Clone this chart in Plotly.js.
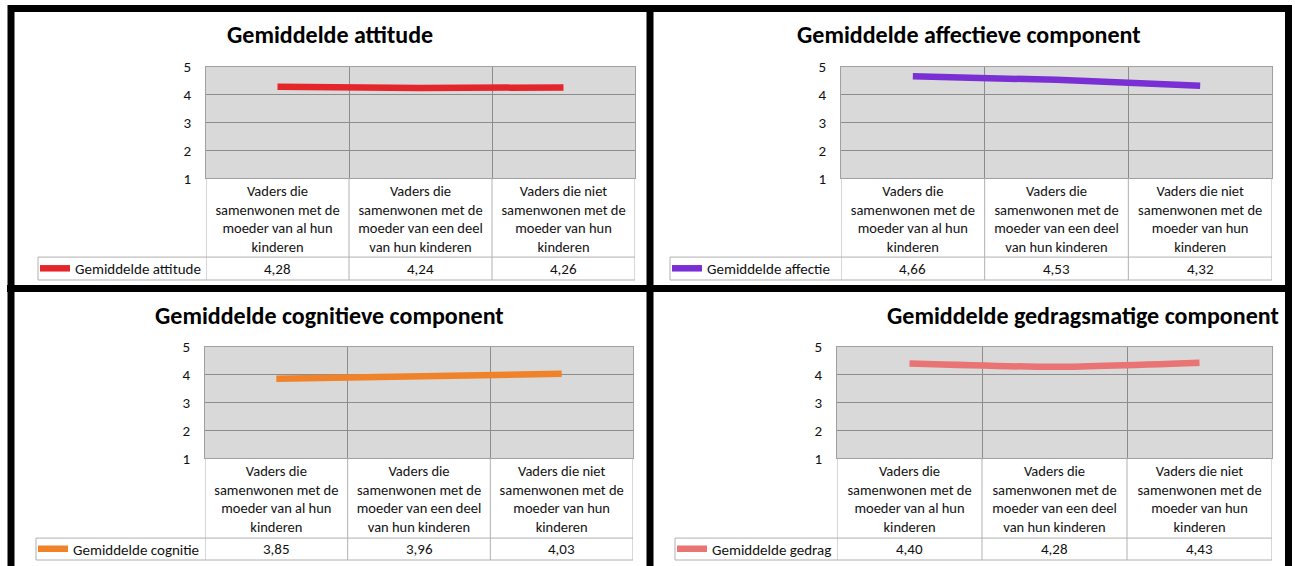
<!DOCTYPE html>
<html>
<head>
<meta charset="utf-8">
<script src="https://cdn.plot.ly/plotly-3.0.1.min.js"></script>
<style>html,body{margin:0;padding:0;background:#fff;}#chart{width:1295px;height:566px;}</style>
</head>
<body>
<div id="chart"></div>
<script>
// ---- data ----
const categories = [
  'Vaders die samenwonen met de moeder van al hun kinderen',
  'Vaders die samenwonen met de moeder van een deel van hun kinderen',
  'Vaders die niet samenwonen met de moeder van hun kinderen'
];
const tickLabels = [
  'Vaders die<br>samenwonen met de<br>moeder van al hun<br>kinderen',
  'Vaders die<br>samenwonen met de<br>moeder van een deel<br>van hun kinderen',
  'Vaders die niet<br>samenwonen met de<br>moeder van hun<br>kinderen'
];
const chartTitles = [
  'Gemiddelde attitude',
  'Gemiddelde affectieve component',
  'Gemiddelde cognitieve component',
  'Gemiddelde gedragsmatige component'
];
const seriesNames = ['Gemiddelde attitude', 'Gemiddelde affectie', 'Gemiddelde cognitie', 'Gemiddelde gedrag'];
const attitude = [4.28, 4.24, 4.26];
const affectie = [4.66, 4.53, 4.32];
const cognitie = [3.85, 3.96, 4.03];
const gedrag   = [4.40, 4.28, 4.43];
const yTicks = [1, 2, 3, 4, 5];

// ---- styling / layout ----
const seriesValues = [attitude, affectie, cognitie, gedrag];
const colors = ['#E4262B', '#7A2FD4', '#F0822A', '#EA7373'];
const shapesKind = ['linear', 'linear', 'linear', 'spline'];
const W = 1295, H = 566;
const px = x => x / W;
const py = y => 1 - y / H;
const FONT = 'Carlito, Lato, "Open Sans", sans-serif';
const GRID = '#8c8c8c';
const TBL = '#b0b0b0';

// pixel boxes for each panel
const panels = [
  {l: 206, r: 635, t: 67, b: 179, leg: 38, tt: 258, tb: 281, tx: 330, ty: 35},
  {l: 841, r: 1272, t: 67, b: 179, leg: 670, tt: 258, tb: 281, tx: 968, ty: 35},
  {l: 205, r: 633, t: 348, b: 460, leg: 36, tt: 540, tb: 562, tx: 329, ty: 317},
  {l: 837, r: 1272, t: 348, b: 460, leg: 675, tt: 540, tb: 562, tx: 1083, ty: 317}
];

const fmt = v => v.toFixed(2).replace('.', ',');

const data = [];
const layout = {
  width: W, height: H,
  margin: {l: 0, r: 0, t: 0, b: 0},
  paper_bgcolor: '#ffffff',
  plot_bgcolor: '#d9d9d9',
  showlegend: true,
  annotations: [],
  shapes: []
};

panels.forEach((p, i) => {
  const sfx = i === 0 ? '' : String(i + 1);
  const legName = 'legend' + sfx;
  data.push({
    type: 'scatter', mode: 'lines',
    x: categories, y: seriesValues[i],
    xaxis: 'x' + sfx, yaxis: 'y' + sfx,
    name: seriesNames[i],
    legend: legName,
    line: {color: colors[i], width: 6.5, shape: shapesKind[i], smoothing: 0.6},
    hoverinfo: 'skip'
  });
  layout['xaxis' + sfx] = {
    domain: [px(p.l), px(p.r)], anchor: 'y' + sfx,
    type: 'category', range: [-0.5, 2.5], tickson: 'boundaries',
    tickvals: categories, ticktext: tickLabels,
    ticks: '', showgrid: true, gridcolor: GRID, gridwidth: 1,
    showline: true, mirror: true, linecolor: '#a0a0a0', linewidth: 1,
    zeroline: false, fixedrange: true, ticklabelstandoff: -1,
    tickfont: {family: FONT, size: 14.5, color: '#111'}
  };
  layout['yaxis' + sfx] = {
    domain: [py(p.b), py(p.t)], anchor: 'x' + sfx,
    range: [1, 5], tickvals: yTicks, ticks: '',
    showgrid: true, gridcolor: GRID, gridwidth: 1,
    showline: true, mirror: true, linecolor: '#a0a0a0', linewidth: 1,
    zeroline: false, fixedrange: true, ticklabelstandoff: 11,
    tickfont: {family: FONT, size: 15, color: '#111'}
  };
  layout[legName] = {
    x: px(p.leg - 3), y: py((p.tt + p.tb) / 2), xanchor: 'left', yanchor: 'middle',
    bgcolor: 'rgba(0,0,0,0)', borderwidth: 0,
    font: {family: FONT, size: 15, color: '#111'},
    itemclick: false, itemdoubleclick: false
  };
  // title
  layout.annotations.push({
    xref: 'paper', yref: 'paper', x: px(p.tx), y: py(p.ty),
    xanchor: 'center', yanchor: 'middle', showarrow: false,
    text: '<b>' + chartTitles[i] + '</b>',
    font: {family: FONT, size: 24, color: '#000'}
  });
  // value cells
  seriesValues[i].forEach((v, j) => {
    layout.annotations.push({
      xref: 'x' + sfx, yref: 'paper', x: categories[j], y: py((p.tt + p.tb) / 2),
      xanchor: 'center', yanchor: 'middle', showarrow: false,
      text: fmt(v), font: {family: FONT, size: 15, color: '#111'}
    });
  });
  // table borders: column lines below the plot
  [-0.5, 0.5, 1.5, 2.5].forEach(b => {
    layout.shapes.push({type: 'line', xref: 'x' + sfx, yref: 'paper',
      x0: b, x1: b, y0: py(p.b), y1: py(p.tb), line: {color: TBL, width: 1}});
  });
  // table row borders
  [p.tt, p.tb].forEach(yy => {
    layout.shapes.push({type: 'line', xref: 'paper', yref: 'paper',
      x0: px(p.leg), x1: px(p.r), y0: py(yy), y1: py(yy), line: {color: TBL, width: 1}});
  });
  layout.shapes.push({type: 'line', xref: 'paper', yref: 'paper',
    x0: px(p.leg), x1: px(p.leg), y0: py(p.tt), y1: py(p.tb), line: {color: TBL, width: 1}});
});

// black frame around the four panels
const frame = [
  [8, 8.5, 1292, 8.5],
  [11, 5, 11, 570],
  [1288.5, 5, 1288.5, 570],
  [650, 5, 650, 570],
  [7, 289.5, 1292, 289.5]
];
frame.forEach(f => {
  layout.shapes.push({type: 'line', xref: 'paper', yref: 'paper',
    x0: px(f[0]), y0: py(f[1]), x1: px(f[2]), y1: py(f[3]),
    line: {color: '#000', width: 7}});
});

Plotly.newPlot('chart', data, layout, {staticPlot: true, displayModeBar: false});
</script>
</body>
</html>
